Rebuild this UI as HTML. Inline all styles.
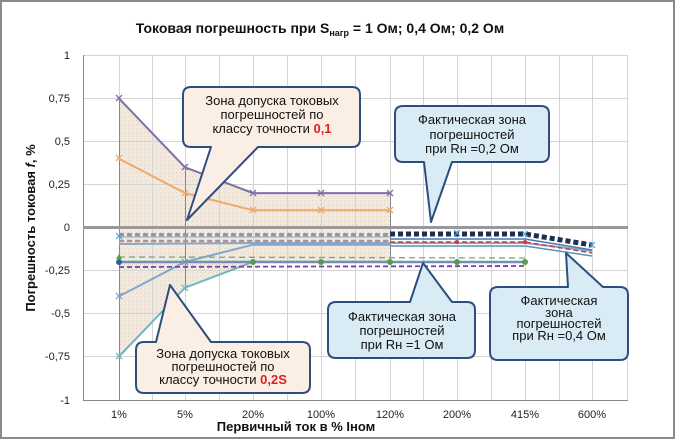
<!DOCTYPE html>
<html><head><meta charset="utf-8"><style>
html,body{margin:0;padding:0;background:#fff}
svg{display:block;font-family:"Liberation Sans",Arial,sans-serif}
</style></head><body>
<svg width="675" height="439" viewBox="0 0 675 439" xmlns="http://www.w3.org/2000/svg">
<defs>
<pattern id="tex" width="4" height="4" patternUnits="userSpaceOnUse">
<rect width="4" height="4" fill="#f2e9df"/><rect x="0" y="0" width="1" height="1" fill="#dcd0c4"/><rect x="2" y="2" width="1" height="1" fill="#e6dcd0"/>
</pattern>
</defs>
<rect x="1" y="1" width="673" height="437" fill="#fff" stroke="#8a8a8a" stroke-width="2"/>
<text x="320" y="33" text-anchor="middle" font-size="14" font-weight="bold" fill="#111">Токовая погрешность при S<tspan font-size="9" dy="3">нагр</tspan><tspan dy="-3"> = 1 Ом; 0,4 Ом; 0,2 Ом</tspan></text>
<polygon points="119,98.5 185,167.3 253,193.1 321,193.1 390,193.1 390,261.9 321,261.9 253,261.9 185,287.7 119,356.5" fill="url(#tex)"/>
<g stroke="#d4d4d4" stroke-width="1">
<line x1="83" y1="55.5" x2="628" y2="55.5"/><line x1="83" y1="98.5" x2="628" y2="98.5"/><line x1="83" y1="141.5" x2="628" y2="141.5"/><line x1="83" y1="184.5" x2="628" y2="184.5"/>
<line x1="83" y1="270.5" x2="628" y2="270.5"/><line x1="83" y1="313.5" x2="628" y2="313.5"/><line x1="83" y1="356.5" x2="628" y2="356.5"/>
<line x1="119.5" y1="55" x2="119.5" y2="400"/><line x1="152.5" y1="55" x2="152.5" y2="400"/><line x1="185.5" y1="55" x2="185.5" y2="400"/><line x1="219.5" y1="55" x2="219.5" y2="400"/>
<line x1="253.5" y1="55" x2="253.5" y2="400"/><line x1="287.5" y1="55" x2="287.5" y2="400"/><line x1="321.5" y1="55" x2="321.5" y2="400"/><line x1="355.5" y1="55" x2="355.5" y2="400"/>
<line x1="390.5" y1="55" x2="390.5" y2="400"/><line x1="423.5" y1="55" x2="423.5" y2="400"/><line x1="457.5" y1="55" x2="457.5" y2="400"/><line x1="491.5" y1="55" x2="491.5" y2="400"/>
<line x1="525.5" y1="55" x2="525.5" y2="400"/><line x1="559.5" y1="55" x2="559.5" y2="400"/><line x1="592.5" y1="55" x2="592.5" y2="400"/><line x1="627.5" y1="55" x2="627.5" y2="400"/>
</g>
<g stroke="#888" stroke-width="1">
<line x1="119.5" y1="98" x2="119.5" y2="400"/><line x1="185.5" y1="167" x2="185.5" y2="290"/><line x1="390.5" y1="193" x2="390.5" y2="262"/>
<line x1="83.5" y1="55" x2="83.5" y2="400"/><line x1="83" y1="400.5" x2="628" y2="400.5"/>
</g>
<line x1="83" y1="227.5" x2="628" y2="227.5" stroke="#999" stroke-width="3"/>
<g font-size="11" fill="#222" text-anchor="end">
<text x="70" y="59">1</text><text x="70" y="102">0,75</text><text x="70" y="145">0,5</text><text x="70" y="188">0,25</text><text x="70" y="231">0</text>
<text x="70" y="274">-0,25</text><text x="70" y="317">-0,5</text><text x="70" y="360">-0,75</text><text x="70" y="404">-1</text>
</g>
<g font-size="11" fill="#222" text-anchor="middle">
<text x="119" y="418">1%</text><text x="185" y="418">5%</text><text x="253" y="418">20%</text><text x="321" y="418">100%</text>
<text x="390" y="418">120%</text><text x="457" y="418">200%</text><text x="525" y="418">415%</text><text x="592" y="418">600%</text>
</g>
<text x="296" y="431" text-anchor="middle" font-size="13" font-weight="bold" fill="#111">Первичный ток в %  Iном</text>
<text transform="translate(35,228) rotate(-90)" text-anchor="middle" font-size="13" font-weight="bold" fill="#111">Погрешность токовая <tspan font-style="italic">f</tspan>, %</text>
<polyline points="119,98.5 185,167.3 253,193.1 321,193.1 390,193.1" fill="none" stroke="#7f6fa8" stroke-width="2"/>
<polyline points="119,158.7 185,193.1 253,210.3 321,210.3 390,210.3" fill="none" stroke="#f0a868" stroke-width="2"/>
<polyline points="119,296.3 185,261.9 253,244.7 321,244.7 390,244.7" fill="none" stroke="#7ea6d0" stroke-width="2"/>
<polyline points="119,356.5 185,287.7 253,261.9 321,261.9 390,261.9" fill="none" stroke="#6fb7c0" stroke-width="2"/>
<g fill="none" stroke-width="1.3">
<g stroke="#7f6fa8"><path d="M116,95l6,6M122,95l-6,6M182,164l6,6M188,164l-6,6M250,190l6,6M256,190l-6,6M318,190l6,6M324,190l-6,6M387,190l6,6M393,190l-6,6"/></g>
<g stroke="#f0a868"><path d="M116,155l6,6M122,155l-6,6M182,190l6,6M188,190l-6,6M250,207l6,6M256,207l-6,6M318,207l6,6M324,207l-6,6M387,207l6,6M393,207l-6,6"/></g>
<g stroke="#7ea6d0"><path d="M116,293l6,6M122,293l-6,6M182,259l6,6M188,259l-6,6"/></g>
<g stroke="#6fb7c0"><path d="M116,353l6,6M122,353l-6,6M182,285l6,6M188,285l-6,6"/></g>
</g>
<polyline points="119,235 390,235" fill="none" stroke="#9a9a9a" stroke-width="4" stroke-dasharray="5,3"/>
<polyline points="119,241 390,241" fill="none" stroke="#b09090" stroke-width="2.5" stroke-dasharray="5,3"/>
<polyline points="119,244 253,243 525,243 592,251" fill="none" stroke="#8aa8c8" stroke-width="2"/>
<polyline points="390,234 457,234 525,234 592,245" fill="none" stroke="#1f2f4f" stroke-width="5" stroke-dasharray="5,3"/>
<polyline points="390,239 457,239 525,239 592,250" fill="none" stroke="#4a7ab0" stroke-width="1.5"/>
<polyline points="390,242 457,242 525,242 592,253" fill="none" stroke="#c04040" stroke-width="1.5" stroke-dasharray="5,3"/>
<polyline points="390,246 525,246 592,256" fill="none" stroke="#5b8fc0" stroke-width="1.5"/>
<polyline points="119,257 525,258" fill="none" stroke="#70b070" stroke-width="1.3" stroke-dasharray="6,4"/>
<polyline points="119,262 390,262 525,262" fill="none" stroke="#7090b8" stroke-width="2.5"/>
<polyline points="119,267 525,266" fill="none" stroke="#7a3fa0" stroke-width="1.8" stroke-dasharray="5,3"/>
<polyline points="119,237 390,237" fill="none" stroke="#8ab4d8" stroke-width="1"/>
<g fill="#5a9a50"><circle cx="253" cy="262" r="3"/><circle cx="321" cy="262" r="3"/><circle cx="390" cy="262" r="3"/><circle cx="457" cy="262" r="3"/><circle cx="525" cy="262" r="3"/></g>
<g fill="#c04040"><circle cx="457" cy="242" r="2"/><circle cx="525" cy="242" r="2"/></g>
<g fill="none" stroke="#4aa0d0" stroke-width="1.2"><path d="M454,230l6,6M460,230l-6,6M522,231l6,6M528,231l-6,6M589,242l6,6M595,242l-6,6M116,233l6,6M122,233l-6,6"/></g>
<circle cx="119" cy="262" r="3" fill="#2f5f9f"/><path d="M116,259l6,0-3,-5z" fill="#50a050"/>
<g stroke="#2e4e7e" stroke-width="2" stroke-linejoin="round">
<path d="M192,87H352Q360,87 360,95V139Q360,147 352,147H258L187,220L211,147H191Q183,147 183,139V95Q183,87 191,87Z" fill="#fbeee4"/>
<path d="M403,106H541Q549,106 549,114V154Q549,162 541,162H452L431,222L424,162H403Q395,162 395,154V114Q395,106 403,106Z" fill="#d9ecf6"/>
<path d="M144,342H156L170,285L211,342H302Q310,342 310,350V385Q310,393 302,393H144Q136,393 136,385V350Q136,342 144,342Z" fill="#fbeee4"/>
<path d="M336,302H410L423,263L452,302H467Q475,302 475,310V350Q475,358 467,358H336Q328,358 328,350V310Q328,302 336,302Z" fill="#d9ecf6"/>
<path d="M498,287H568L566,253L603,287H620Q628,287 628,295V352Q628,360 620,360H498Q490,360 490,352V295Q490,287 498,287Z" fill="#d9ecf6"/>
</g>
<g font-size="13" fill="#111" text-anchor="middle">
<text x="272" y="105">Зона допуска токовых</text>
<text x="272" y="119">погрешностей по</text>
<text x="272" y="133">классу  точности <tspan fill="#e02020" font-weight="bold">0,1</tspan></text>
<text x="472" y="124">Фактическая зона</text>
<text x="472" y="139">погрешностей</text>
<text x="472" y="153">при Rн =0,2 Ом</text>
<text x="223" y="358">Зона допуска токовых</text><text x="223" y="371">погрешностей по</text><text x="223" y="384">классу  точности <tspan fill="#e02020" font-weight="bold">0,2S</tspan></text>
<text x="402" y="321">Фактическая зона</text><text x="402" y="335">погрешностей</text><text x="402" y="349">при Rн =1 Ом</text>
<text x="559" y="305">Фактическая</text><text x="559" y="317">зона</text><text x="559" y="328">погрешностей</text><text x="559" y="340">при Rн =0,4 Ом</text>
</g>
</svg>
</body></html>
